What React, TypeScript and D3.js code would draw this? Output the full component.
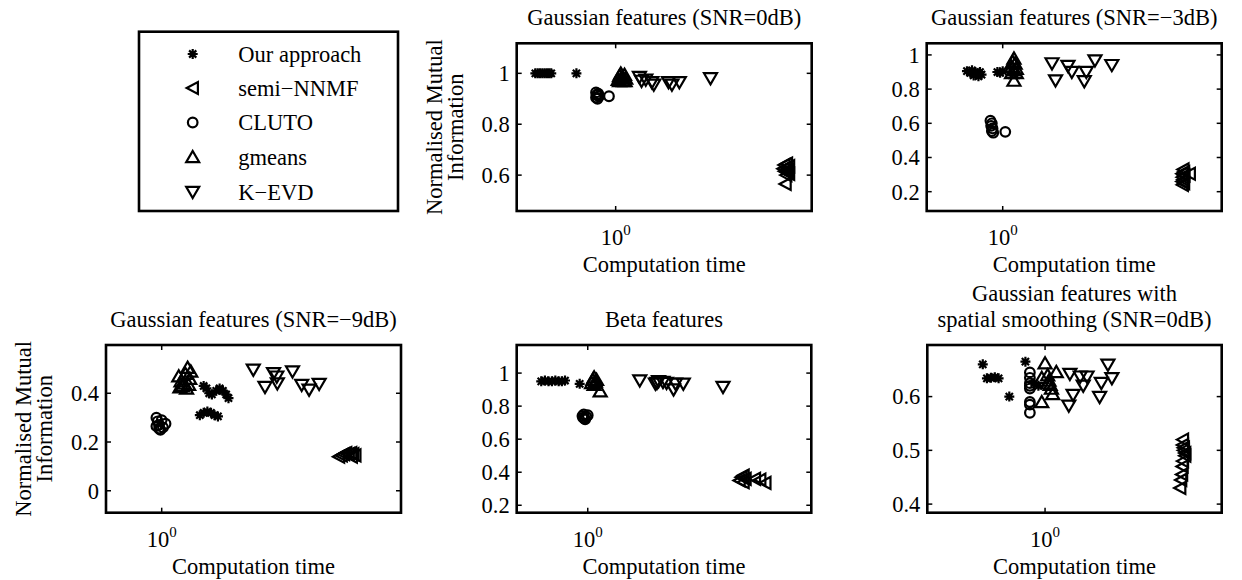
import React from 'react';
import * as d3 from 'd3';

type Pt = [number, number];

const seriesNames = ['Our approach', 'semi\u2212NNMF', 'CLUTO', 'gmeans', 'K\u2212EVD'];
const markerKinds = ['star', 'left', 'circle', 'up', 'down'];

// Panel 1: Gaussian features (SNR=0dB)
const p1Ours: Pt[] = [[0.54,1.0],[0.55,1.0],[0.56,1.0],[0.57,1.0],[0.58,1.0],[0.59,1.0],[0.60,1.0],[0.61,1.0],[0.74,1.0]];
const p1Semi: Pt[] = [[3.65,0.64],[3.72,0.645],[3.78,0.635],[3.62,0.625],[3.7,0.63],[3.76,0.62],[3.66,0.615],[3.74,0.61],[3.78,0.605],[3.7,0.60],[3.68,0.565]];
const p1Cluto: Pt[] = [[0.86,0.925],[0.865,0.915],[0.86,0.905],[0.87,0.9],[0.875,0.92],[0.88,0.91],[0.95,0.91]];
const p1Gmeans: Pt[] = [[1.02,0.975],[1.03,0.99],[1.04,1.0],[1.05,0.985],[1.06,0.97],[1.07,0.995],[1.08,0.98],[1.03,0.97],[1.055,0.98],[1.075,0.97]];
const p1Kevd: Pt[] = [[1.2,0.985],[1.22,0.97],[1.26,0.975],[1.32,0.965],[1.34,0.955],[1.5,0.965],[1.54,0.955],[1.63,0.965],[2.07,0.98]];

// Panel 2: Gaussian features (SNR=-3dB)
const p2Ours: Pt[] = [[0.76,0.905],[0.78,0.895],[0.79,0.91],[0.8,0.88],[0.81,0.9],[0.82,0.89],[0.83,0.875],[0.84,0.9],[0.85,0.885],[0.96,0.9],[0.98,0.895],[1.0,0.905]];
const p2Semi: Pt[] = [[4.0,0.33],[4.02,0.315],[3.97,0.305],[4.03,0.295],[3.98,0.285],[4.0,0.27],[3.97,0.26],[4.02,0.25],[3.98,0.24],[4.2,0.305]];
const p2Cluto: Pt[] = [[0.91,0.615],[0.92,0.6],[0.915,0.585],[0.925,0.57],[0.92,0.555],[0.93,0.545],[1.02,0.55]];
const p2Gmeans: Pt[] = [[1.09,0.98],[1.08,0.96],[1.1,0.95],[1.07,0.93],[1.11,0.92],[1.09,0.91],[1.07,0.895],[1.11,0.895],[1.09,0.85]];
const p2Kevd: Pt[] = [[1.46,0.95],[1.5,0.85],[1.65,0.935],[1.7,0.9],[1.87,0.845],[1.9,0.9],[2.03,0.967],[2.31,0.94]];

// Panel 3: Gaussian features (SNR=-9dB)
const p3Ours: Pt[] = [[1.38,0.43],[1.41,0.42],[1.44,0.40],[1.47,0.395],[1.52,0.41],[1.56,0.42],[1.6,0.41],[1.64,0.395],[1.67,0.38],[1.34,0.31],[1.38,0.32],[1.42,0.325],[1.46,0.32],[1.5,0.31],[1.54,0.305]];
const p3Semi: Pt[] = [[3.9,0.14],[3.98,0.145],[4.05,0.15],[4.12,0.155],[4.2,0.15],[4.28,0.155],[4.35,0.15],[4.42,0.145],[4.3,0.14]];
const p3Cluto: Pt[] = [[0.96,0.30],[0.97,0.285],[0.98,0.27],[0.96,0.265],[0.99,0.25],[1.01,0.26],[1.03,0.275],[1.0,0.29],[0.98,0.255]];
const p3Gmeans: Pt[] = [[1.14,0.47],[1.16,0.45],[1.17,0.43],[1.2,0.48],[1.22,0.505],[1.19,0.44],[1.24,0.46],[1.21,0.42],[1.25,0.49],[1.15,0.425],[1.23,0.435]];
const p3Kevd: Pt[] = [[2.02,0.496],[2.21,0.425],[2.36,0.482],[2.42,0.468],[2.43,0.44],[2.73,0.489],[2.93,0.434],[3.1,0.414],[3.35,0.438]];

// Panel 4: Beta features
const p4Ours: Pt[] = [[0.70,0.95],[0.72,0.955],[0.74,0.95],[0.76,0.95],[0.78,0.955],[0.80,0.95],[0.82,0.95],[0.84,0.955],[0.94,0.935]];
const p4Semi: Pt[] = [[3.2,0.35],[3.25,0.37],[3.3,0.38],[3.35,0.36],[3.3,0.34],[3.6,0.36],[3.75,0.355],[3.9,0.335]];
const p4Cluto: Pt[] = [[0.96,0.74],[0.965,0.73],[0.97,0.75],[0.98,0.72],[0.99,0.735],[1.0,0.745],[0.975,0.725]];
const p4Gmeans: Pt[] = [[1.03,0.94],[1.04,0.96],[1.05,0.975],[1.06,0.95],[1.07,0.96],[1.05,0.93],[1.1,0.89]];
const p4Kevd: Pt[] = [[1.49,0.955],[1.68,0.935],[1.7,0.94],[1.72,0.95],[1.78,0.945],[1.83,0.94],[1.93,0.9],[1.96,0.935],[2.08,0.935],[2.82,0.915]];

// Panel 5: Gaussian features with spatial smoothing (SNR=0dB)
const p5Ours: Pt[] = [[0.62,0.66],[0.64,0.634],[0.66,0.635],[0.68,0.636],[0.70,0.634],[0.76,0.60],[0.86,0.665],[0.92,0.625],[0.95,0.62]];
const p5Semi: Pt[] = [[2.88,0.52],[2.88,0.51],[2.9,0.505],[2.9,0.50],[2.93,0.495],[2.88,0.48],[2.87,0.47],[2.86,0.455],[2.84,0.445],[2.82,0.43],[2.93,0.49]];
const p5Cluto: Pt[] = [[0.89,0.645],[0.89,0.635],[0.89,0.625],[0.89,0.62],[0.89,0.615],[0.89,0.59],[0.89,0.585],[0.89,0.57]];
const p5Gmeans: Pt[] = [[1.0,0.662],[0.975,0.635],[1.02,0.64],[1.03,0.63],[1.09,0.646],[1.04,0.622],[1.06,0.605],[0.975,0.59],[1.05,0.615],[1.02,0.625]];
const p5Kevd: Pt[] = [[1.21,0.642],[1.31,0.637],[1.38,0.637],[1.34,0.62],[1.24,0.603],[1.2,0.583],[1.62,0.659],[1.67,0.634],[1.54,0.625],[1.52,0.599]];

const p1YTicks = [0.6, 0.8, 1];
const p2YTicks = [0.2, 0.4, 0.6, 0.8, 1];
const p3YTicks = [0, 0.2, 0.4];
const p4YTicks = [0.2, 0.4, 0.6, 0.8, 1];
const p5YTicks = [0.4, 0.5, 0.6];
const xTicks = [1];

const titles = [
  ['Gaussian features (SNR=0dB)'],
  ['Gaussian features (SNR=\u22123dB)'],
  ['Gaussian features (SNR=\u22129dB)'],
  ['Beta features'],
  ['Gaussian features with', 'spatial smoothing (SNR=0dB)'],
];
const xLabel = 'Computation time';
const yLabelLines = ['Normalised Mutual', 'Information'];

const FONT = "'Liberation Serif', 'Times New Roman', Times, serif";
const FS = 22.5;

const panels = [
  { title: titles[0], box: [516.7, 43.3, 811.7, 211], titleY: [25], xDomain: [0.468, 4.5], yDomain: [0.459, 1.118], yTicks: p1YTicks, ylabel: true, data: [p1Ours, p1Semi, p1Cluto, p1Gmeans, p1Kevd] },
  { title: titles[1], box: [926.7, 43.3, 1221.7, 211], titleY: [25], xDomain: [0.558, 5.37], yDomain: [0.087, 1.068], yTicks: p2YTicks, ylabel: false, data: [p2Ours, p2Semi, p2Cluto, p2Gmeans, p2Kevd] },
  { title: titles[2], box: [106, 345, 401, 512.7], titleY: [327], xDomain: [0.652, 6.28], yDomain: [-0.09, 0.598], yTicks: p3YTicks, ylabel: true, data: [p3Ours, p3Semi, p3Cluto, p3Gmeans, p3Kevd] },
  { title: titles[3], box: [516.7, 345, 811.3, 512.7], titleY: [327], xDomain: [0.58, 5.55], yDomain: [0.155, 1.17], yTicks: p4YTicks, ylabel: false, data: [p4Ours, p4Semi, p4Cluto, p4Gmeans, p4Kevd] },
  { title: titles[4], box: [927.3, 345, 1221.7, 512.7], titleY: [301, 327], xDomain: [0.405, 3.88], yDomain: [0.384, 0.696], yTicks: p5YTicks, ylabel: false, data: [p5Ours, p5Semi, p5Cluto, p5Gmeans, p5Kevd] },
];

function Marker({ kind, x, y }: { kind: string; x: number; y: number }) {
  const common = { fill: 'none', stroke: '#000', strokeWidth: 2.2, strokeLinejoin: 'miter' as const };
  const t = `translate(${x},${y})`;
  if (kind === 'star') {
    return <path transform={t} d="M-5,0L5,0M0,-5L0,5M-3.6,-3.6L3.6,3.6M-3.6,3.6L3.6,-3.6" {...common} />;
  }
  if (kind === 'circle') return <circle cx={x} cy={y} r={4.8} {...common} />;
  if (kind === 'left') return <path transform={t} d="M-6,0L5.2,-6L5.2,6Z" {...common} />;
  if (kind === 'up') return <path transform={t} d="M0,-6L6.5,5.2L-6.5,5.2Z" {...common} />;
  return <path transform={t} d="M0,6L6.5,-5.2L-6.5,-5.2Z" {...common} />;
}

function Panel({ p }: { p: (typeof panels)[number] }) {
  const [x0, y0, x1, y1] = p.box;
  const xs = d3.scaleLog().domain(p.xDomain).range([x0, x1]);
  const ys = d3.scaleLinear().domain(p.yDomain).range([y1, y0]);
  const cx = (x0 + x1) / 2;
  const cy = (y0 + y1) / 2;
  const tl = 5;
  return (
    <g>
      {p.title.map((t, i) => (
        <text key={i} x={cx} y={p.titleY[i]} textAnchor="middle" fontSize={FS} fontFamily={FONT}>{t}</text>
      ))}
      {p.data.map((series, si) => (
        <g key={si}>
          {series.map((d, i) => (
            <Marker key={i} kind={markerKinds[si]} x={xs(d[0])} y={ys(d[1])} />
          ))}
        </g>
      ))}
      {p.yTicks.map((v) => (
        <g key={v}>
          <line x1={x0} x2={x0 + tl} y1={ys(v)} y2={ys(v)} stroke="#000" strokeWidth={1.5} />
          <line x1={x1} x2={x1 - tl} y1={ys(v)} y2={ys(v)} stroke="#000" strokeWidth={1.5} />
          <text x={x0 - 7} y={ys(v)} dy="0.35em" textAnchor="end" fontSize={FS} fontFamily={FONT}>{String(v)}</text>
        </g>
      ))}
      {xTicks.map((v) => (
        <g key={v}>
          <line x1={xs(v)} x2={xs(v)} y1={y1} y2={y1 - tl} stroke="#000" strokeWidth={1.5} />
          <line x1={xs(v)} x2={xs(v)} y1={y0} y2={y0 + tl} stroke="#000" strokeWidth={1.5} />
          <text x={xs(v)} y={y1 + 34} textAnchor="middle" fontSize={FS} fontFamily={FONT}>
            10<tspan fontSize={15} dy={-10}>{Math.round(Math.log10(v))}</tspan>
          </text>
        </g>
      ))}
      <rect x={x0} y={y0} width={x1 - x0} height={y1 - y0} fill="none" stroke="#000" strokeWidth={2.6} />
      <text x={cx} y={y1 + 61} textAnchor="middle" fontSize={FS} fontFamily={FONT}>{xLabel}</text>
      {p.ylabel && yLabelLines.map((l, i) => (
        <text key={i} transform={`translate(${x0 - 75 + i * 21},${cy}) rotate(-90)`} textAnchor="middle" fontSize={FS} fontFamily={FONT}>{l}</text>
      ))}
    </g>
  );
}

function Legend() {
  const rows = [54, 88, 122.5, 157, 192];
  return (
    <g>
      <rect x={139} y={31.7} width={259} height={179.3} fill="#fff" stroke="#000" strokeWidth={2.6} />
      {seriesNames.map((n, i) => (
        <g key={n}>
          <Marker kind={markerKinds[i]} x={192.7} y={rows[i]} />
          <text x={238.3} y={rows[i]} dy="0.35em" fontSize={FS} fontFamily={FONT}>{n}</text>
        </g>
      ))}
    </g>
  );
}

export default function App() {
  return (
    <svg width={1242} height={580} style={{ position: 'absolute', left: 0, top: 0, background: '#fff' }}>
      <rect width={1242} height={580} fill="#fff" />
      {panels.map((p, i) => <Panel key={i} p={p} />)}
      <Legend />
    </svg>
  );
}
